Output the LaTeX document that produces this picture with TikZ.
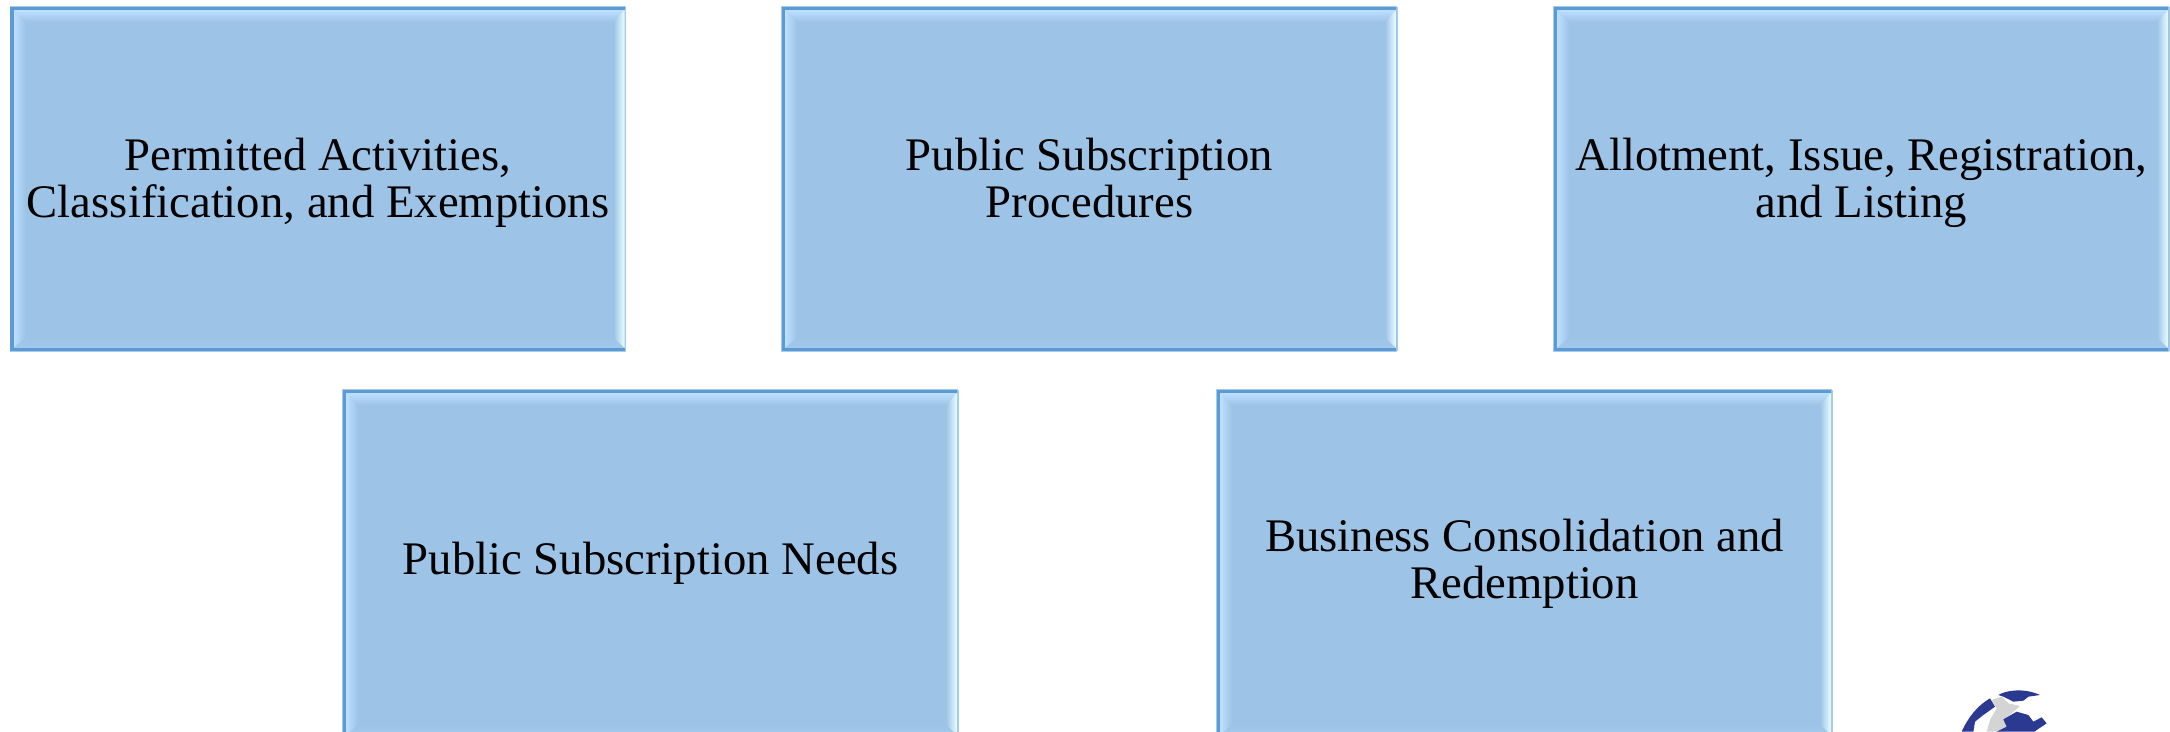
\documentclass[tikz,border=0pt]{standalone}
\usepackage{fontspec}
\setmainfont{Liberation Serif}
\usetikzlibrary{calc}
\definecolor{boxfill}{HTML}{9DC3E6}
\definecolor{boxedge}{HTML}{5B9BD5}
\definecolor{boxhalo}{HTML}{A9CBEA}
\definecolor{bevlight}{HTML}{BDE0FF}
\definecolor{bevmid}{HTML}{B5DDF5}
\definecolor{bevcyan}{HTML}{E8FFFF}
\definecolor{bevlow}{HTML}{A3CAEE}
\definecolor{globeblue}{HTML}{2B3990}
\definecolor{globegrey}{HTML}{D4D4D4}
\tikzset{
  x=1pt,y=-1pt,
  panel/.style={fill=boxfill,inner sep=0pt,outer sep=0pt,minimum width=615pt,minimum height=344pt,
    align=center,text=black,font=\fontsize{46.7}{47}\selectfont},
  panellow/.style={panel,minimum height=348pt},
  edgeline/.style={draw=boxedge,line width=3.5pt,line cap=butt,line join=miter},
  haloline/.style={draw=boxhalo,line width=1pt},
}
\newcommand{\upstrut}{\rule{0pt}{41pt}}
\newcommand{\lowupstrut}{\rule{0pt}{33pt}}
\newcommand{\downstrut}{\rule[-12pt]{0pt}{12pt}}
\newcommand{\bevelpanel}[1]{%
  \coordinate (tl) at (#1.north west);
  \coordinate (tr) at (#1.north east);
  \coordinate (bl) at (#1.south west);
  \coordinate (br) at (#1.south east);
  \shade[top color=bevlight,bottom color=boxfill]
    ($(tl)+(3,3)$) -- ($(tr)+(-1,3)$) -- ($(tr)+(-12,15)$) -- ($(tl)+(15,15)$) -- cycle;
  \shade[left color=bevlight,right color=boxfill]
    ($(tl)+(3,3)$) -- ($(tl)+(15,15)$) -- ($(bl)+(15,-13)$) -- ($(bl)+(3,-3)$) -- cycle;
  \shade[left color=boxfill,middle color=bevmid,right color=bevcyan]
    ($(tr)+(-12,15)$) -- ($(tr)+(-1,3)$) -- ($(br)+(-1,-1)$) -- ($(br)+(-12,-13)$) -- cycle;
  \shade[top color=boxfill,bottom color=bevlow]
    ($(bl)+(15,-13)$) -- ($(br)+(-12,-13)$) -- ($(br)+(-1,-3)$) -- ($(bl)+(3,-3)$) -- cycle;
  \draw[haloline] ($(tr)+(0,-0.5)$) -- ($(tl)+(-0.5,-0.5)$) -- ($(bl)+(-0.5,0.5)$) -- ($(br)+(0,0.5)$);
  \draw[edgeline] ($(tr)+(-1,1.5)$) -- ($(tl)+(1.5,1.5)$) -- ($(bl)+(1.5,-1.5)$) -- ($(br)+(-1,-1.5)$);
  \draw[haloline] ($(tr)+(0,0)$) -- ($(br)+(0,0)$);
}
\begin{document}
\begin{tikzpicture}
\useasboundingbox (0,0) rectangle (2170,731);
\clip (0,0) rectangle (2170,731);
\fill[white] (0,0) rectangle (2170,731);
\node[panel] (a) at (318,179) {\upstrut Permitted Activities,\\Classification, and Exemptions\downstrut};
\bevelpanel{a}
\node[panel] (b) at (1089.5,179) {\upstrut Public Subscription\\Procedures\downstrut};
\bevelpanel{b}
\node[panel] (c) at (1861.5,179) {\upstrut Allotment, Issue, Registration,\\and Listing\downstrut};
\bevelpanel{c}
\node[panellow] (d) at (650.5,564) {\lowupstrut Public Subscription Needs\downstrut};
\bevelpanel{d}
\node[panellow] (e) at (1524.5,564) {\lowupstrut Business Consolidation and\\Redemption\downstrut};
\bevelpanel{e}
\begin{scope}[shift={(1940,680)},x=0.3333pt,y=-0.3333pt]
  \fill[globeblue] (175,45) .. controls (195,32) and (250,22) .. (300,45)
    -- (265,50) -- (250,62) -- (220,65) -- (190,50) -- cycle;
  \fill[globeblue] (150,55) -- (165,80) -- (130,105) -- (105,125) -- (100,155) -- (65,155)
    .. controls (85,110) and (115,75) .. (150,55) -- cycle;
  \fill[globegrey] (155,60) -- (185,50) -- (205,70) -- (240,78) -- (215,100)
    -- (195,115) -- (215,135) -- (190,155) -- (140,155) -- (150,120) -- (170,85) -- cycle;
  \fill[globeblue] (230,95) -- (265,105) -- (280,125) -- (305,112) -- (320,130)
    -- (290,150) -- (285,155) -- (170,155) -- (200,140) -- (190,118) -- cycle;
\end{scope}
\end{tikzpicture}
\end{document}
